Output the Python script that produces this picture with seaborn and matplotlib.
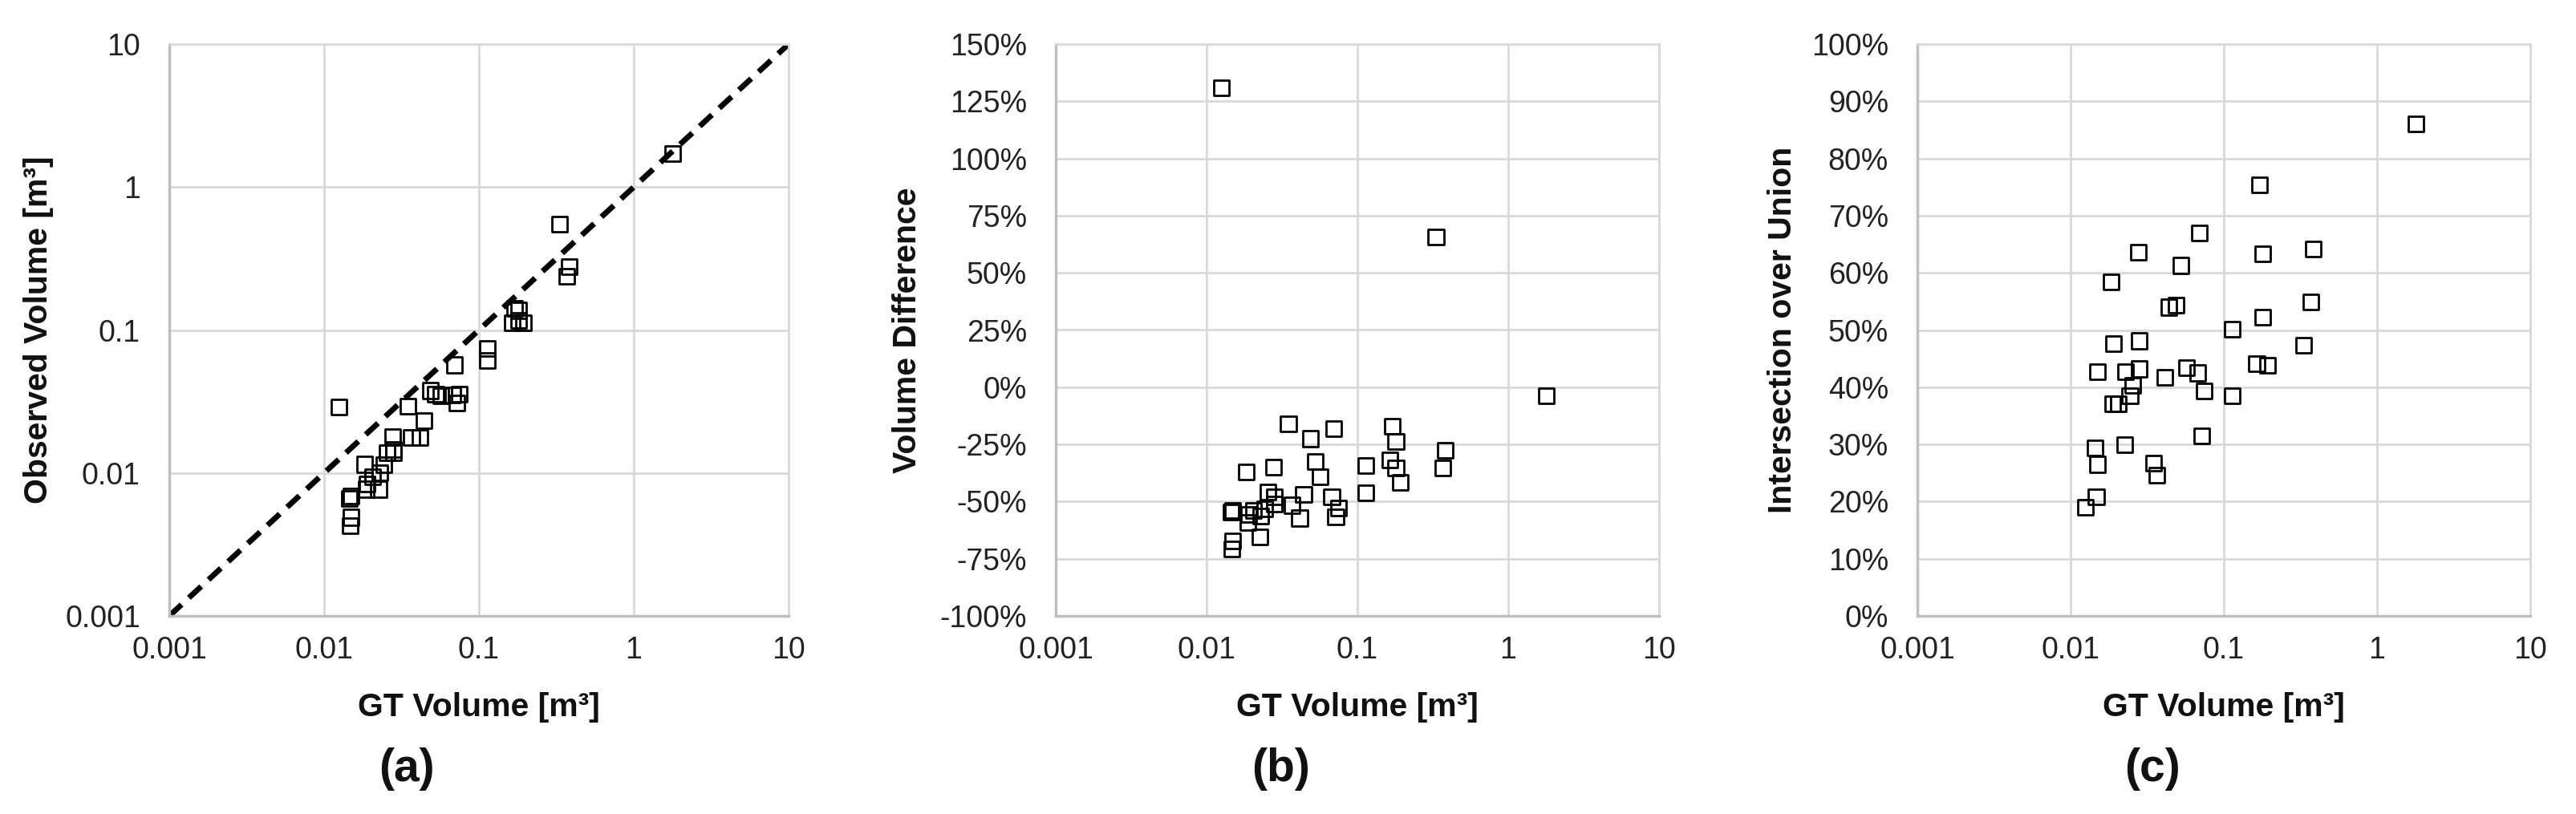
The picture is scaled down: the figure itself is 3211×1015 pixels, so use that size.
import numpy as np
import pandas as pd
import seaborn as sns
import matplotlib.pyplot as plt
from matplotlib.ticker import FixedLocator, FixedFormatter, NullLocator

sns.set_theme(style="white")
plt.rcParams['font.family'] = ['Liberation Sans', 'DejaVu Sans']

# data (one row per object)
gt_volume = [0.0125, 0.332, 1.79, 0.0349, 0.0487, 0.0695, 0.1706, 0.180,
             0.0183, 0.0277, 0.0525, 0.0568, 0.1135, 0.164, 0.180, 0.1935,
             0.383, 0.368, 0.1135, 0.044, 0.0676, 0.0748, 0.0718, 0.0414,
             0.0367, 0.0254, 0.0281, 0.0281, 0.0229, 0.0244, 0.019, 0.0188,
             0.0205, 0.0225, 0.0149, 0.0145, 0.0149, 0.0147]
observed_volume = [0.0289, 0.550, 1.722, 0.0293, 0.0377, 0.0570, 0.1413, 0.1372,
                   0.0115, 0.0180, 0.0354, 0.0345, 0.0746, 0.1118, 0.1165, 0.1128,
                   0.2769, 0.2381, 0.0612, 0.0233, 0.0352, 0.0354, 0.0310, 0.0177,
                   0.0178, 0.0138, 0.0146, 0.0138, 0.0100, 0.0114, 0.0084, 0.0077,
                   0.0094, 0.0077, 0.0069, 0.0066, 0.0049, 0.0043]
volume_diff = [131, 65.6, -3.8, -16, -22.5, -18, -17.2, -23.8,
               -37.2, -35, -32.6, -39.3, -34.3, -31.8, -35.3, -41.7,
               -27.7, -35.3, -46.1, -47, -48, -52.7, -56.8, -57.2,
               -51.6, -45.7, -48, -51, -56.2, -53.3, -55.6, -59.2,
               -54, -65.6, -53.9, -54.5, -67.3, -70.8]
iou = [19, 47.3, 86, 26.7, 54.3, 67, 75.4, 63.3,
       58.4, 63.6, 61.3, 43.4, 50.2, 44.1, 52.3, 43.8,
       64.2, 54.9, 38.5, 54, 42.5, 39.3, 31.5, 41.7,
       24.6, 40.3, 48.1, 43.2, 42.7, 38.5, 47.6, 37.1,
       37.1, 29.9, 42.7, 29.4, 26.5, 20.8]

df = pd.DataFrame({'gt': gt_volume, 'obs': observed_volume,
                   'diff': volume_diff, 'iou': iou})

log_ticks = [0.001, 0.01, 0.1, 1, 10]
log_labels = ['0.001', '0.01', '0.1', '1', '10']
diff_ticks = list(range(-100, 151, 25))
diff_labels = ['%d%%' % t for t in diff_ticks]
iou_ticks = list(range(0, 101, 10))
iou_labels = ['%d%%' % t for t in iou_ticks]
identity = [0.001, 10]

fig = plt.figure(figsize=(32.11, 10.15), dpi=100)
W, H = 3211, 1015
ax_a = fig.add_axes([211 / W, 247 / H, 772 / W, 713 / H])
ax_b = fig.add_axes([1316 / W, 247 / H, 752 / W, 713 / H])
ax_c = fig.add_axes([2390 / W, 247 / H, 764 / W, 713 / H])

tick_col = '#222222'
grid_col = '#d9d9d9'


def style_axis(ax, yticks, ylabels, ylabel, ylab_x):
    ax.set_xscale('log')
    ax.set_xlim(0.001, 10)
    ax.xaxis.set_major_locator(FixedLocator(log_ticks))
    ax.xaxis.set_major_formatter(FixedFormatter(log_labels))
    ax.xaxis.set_minor_locator(NullLocator())
    ax.yaxis.set_major_locator(FixedLocator(yticks))
    ax.yaxis.set_major_formatter(FixedFormatter(ylabels))
    ax.yaxis.set_minor_locator(NullLocator())
    ax.grid(True, color=grid_col, lw=2, zorder=0)
    ax.set_axisbelow(True)
    ax.tick_params(axis='both', length=0, labelsize=27, colors=tick_col)
    ax.tick_params(axis='y', pad=26)
    ax.tick_params(axis='x', pad=18)
    for s in ['top', 'right']:
        ax.spines[s].set_color(grid_col)
        ax.spines[s].set_linewidth(2)
    for s in ['left', 'bottom']:
        ax.spines[s].set_color('#bfbfbf')
        ax.spines[s].set_linewidth(2.5)
    ax.set_xlabel('GT Volume [m³]', fontsize=29.5, fontweight='bold', color='#111111')
    ax.set_ylabel(ylabel, fontsize=29.5, fontweight='bold', color='#111111')
    ax.xaxis.set_label_coords(0.5, -0.16)
    ax.xaxis.label.set_va('center')
    ax.yaxis.set_label_coords(ylab_x, 0.5)
    ax.yaxis.label.set_va('center')


mk = dict(marker='s', s=190, facecolor='none', edgecolor='black', linewidth=2, zorder=3)

# (a) observed vs GT
sns.lineplot(x=identity, y=identity, ax=ax_a, color='black', lw=5,
             linestyle=(0, (3, 1.8)), zorder=2)
sns.scatterplot(data=df, x='gt', y='obs', ax=ax_a, **mk)
ax_a.set_yscale('log')
ax_a.set_ylim(0.001, 10)
style_axis(ax_a, log_ticks, log_labels, 'Observed Volume [m³]', -0.211)

# (b) volume difference
sns.scatterplot(data=df, x='gt', y='diff', ax=ax_b, **mk)
ax_b.set_ylim(-100, 150)
style_axis(ax_b, diff_ticks, diff_labels, 'Volume Difference', -0.246)

# (c) IoU
sns.scatterplot(data=df, x='gt', y='iou', ax=ax_c, **mk)
ax_c.set_ylim(0, 100)
style_axis(ax_c, iou_ticks, iou_labels, 'Intersection over Union', -0.22)

for lab, xp in [('(a)', 507), ('(b)', 1597), ('(c)', 2683)]:
    fig.text(xp / W, 1 - 959 / H, lab, fontsize=41, fontweight='bold',
             ha='center', va='center', color='#111111')

fig.savefig('out.png', dpi=100)
